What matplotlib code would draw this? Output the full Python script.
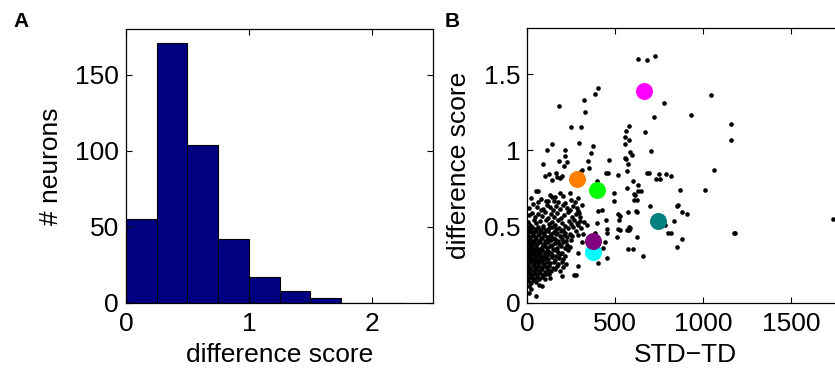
import matplotlib
matplotlib.use("Agg")
import matplotlib.pyplot as plt

plt.rcParams["font.family"] = ["Liberation Sans", "DejaVu Sans"]

# panel A: histogram of difference scores
bin_left = [0.0, 0.25, 0.5, 0.75, 1.0, 1.25, 1.5, 1.75, 2.0]
counts = [55, 171, 104, 42, 17, 8, 3, 0, 0]
bin_width = 0.25

# panel B: STD-TD vs difference score (one point per neuron)
sparse_pts = [
    (629, 1.60), (678, 1.59), (727, 1.62), (402, 1.41), (386, 1.37), (324, 1.33),
    (330, 1.25), (182, 1.29), (778, 1.31), (722, 1.22), (928, 1.23), (1043, 1.36),
    (1159, 1.17), (1157, 1.07), (1061, 0.87), (1011, 0.74), (1174, 0.46), (1739, 0.55),
    (667, 1.12), (250, 1.15), (305, 1.15), (138, 1.04), (110, 1.00), (214, 1.00),
    (295, 1.05), (375, 1.03), (578, 1.16), (561, 1.125), (553, 1.087), (578, 1.066),
    (557, 1.043),
    # 0.75 - 1.0
    (364, 0.98), (216, 0.963), (226, 0.923), (210, 0.90), (178, 0.928), (89, 0.91),
    (345, 0.932), (349, 0.882), (462, 0.936), (563, 0.945), (121, 0.845), (102, 0.831),
    (140, 0.805), (163, 0.853), (169, 0.827), (188, 0.82), (197, 0.833), (301, 0.86),
    (313, 0.871), (447, 0.853), (457, 0.853), (513, 0.84), (566, 0.866), (703, 0.995),
    (583, 0.987), (593, 0.969), (557, 0.947), (574, 0.908), (678, 0.849), (689, 0.849),
    (750, 0.845), (786, 0.845), (816, 0.829), (731, 0.81), (754, 0.81), (396, 0.80),
    (598, 0.80), (631, 0.772), (566, 0.752),
    # 0.5 - 0.75 outside the dense cluster
    (51, 0.73), (61, 0.73), (59, 0.66), (119, 0.67), (138, 0.695), (608, 0.71),
    (627, 0.735), (604, 0.675), (574, 0.595), (621, 0.595), (865, 0.738), (852, 0.635),
    (881, 0.593), (905, 0.58), (833, 0.537), (782, 0.507), (644, 0.735), (610, 0.707),
    (625, 0.674), (697, 0.634), (617, 0.602), (527, 0.569), (495, 0.718), (493, 0.67),
    (290, 0.685), (309, 0.64), (286, 0.60), (294, 0.587), (400, 0.60), (423, 0.608),
    (445, 0.543), (514, 0.582), (523, 0.543), (298, 0.534), (286, 0.512), (394, 0.521),
    (858, 0.64),
    # 0.25 - 0.5 outside the dense cluster
    (581, 0.49), (576, 0.477), (570, 0.35), (602, 0.35), (659, 0.304), (621, 0.433),
    (801, 0.46), (816, 0.46), (881, 0.415), (852, 0.363), (1182, 0.457), (305, 0.492),
    (455, 0.486), (517, 0.482), (511, 0.429), (451, 0.455), (385, 0.455), (315, 0.45),
    (286, 0.444), (309, 0.40), (441, 0.40), (432, 0.357), (290, 0.326), (451, 0.293),
    (400, 0.26), (527, 0.48), (568, 0.48), (580, 0.495), (290, 0.239), (278, 0.18),
]

dense_pts = [
    (129, 0.707), (186, 0.718), (205, 0.70), (160, 0.695), (240, 0.72),
    (20, 0.69), (80, 0.68), (105, 0.665), (150, 0.67), (175, 0.66), (215, 0.655),
    (250, 0.675), (270, 0.66),
    (10, 0.62), (35, 0.645), (55, 0.63), (75, 0.61), (92, 0.612), (110, 0.64),
    (130, 0.625), (145, 0.605), (165, 0.635), (185, 0.615), (200, 0.64), (225, 0.62),
    (245, 0.605), (262, 0.635), (280, 0.62),
    (8, 0.575), (25, 0.59), (45, 0.56), (60, 0.585), (85, 0.57), (100, 0.595),
    (118, 0.555), (135, 0.58), (150, 0.565), (170, 0.59), (190, 0.555), (210, 0.575),
    (230, 0.595), (255, 0.565), (275, 0.58), (300, 0.56),
    (5, 0.53), (18, 0.51), (38, 0.545), (52, 0.52), (70, 0.535), (88, 0.505),
    (105, 0.54), (122, 0.515), (140, 0.53), (158, 0.51), (175, 0.545), (195, 0.52),
    (215, 0.505), (235, 0.535), (250, 0.515), (268, 0.545), (285, 0.52), (320, 0.53),
    (340, 0.51),
    (3, 0.49), (15, 0.478), (28, 0.495), (42, 0.483), (58, 0.497), (73, 0.48),
    (90, 0.492), (108, 0.476), (125, 0.489), (143, 0.498), (162, 0.481), (180, 0.493),
    (200, 0.479), (232, 0.488), (262, 0.496),
    (8, 0.462), (20, 0.472), (35, 0.455), (48, 0.468), (65, 0.451), (80, 0.466),
    (97, 0.458), (115, 0.473), (132, 0.453), (150, 0.464), (170, 0.456), (192, 0.47),
    (215, 0.46), (245, 0.452), (275, 0.468),
    (2, 0.44), (14, 0.428), (30, 0.447), (45, 0.433), (60, 0.442), (77, 0.427),
    (93, 0.445), (110, 0.431), (128, 0.439), (147, 0.426), (165, 0.448), (185, 0.435),
    (208, 0.443), (228, 0.429), (255, 0.437),
    (6, 0.412), (18, 0.421), (33, 0.404), (50, 0.417), (67, 0.408), (83, 0.423),
    (100, 0.402), (118, 0.415), (137, 0.409), (155, 0.42), (175, 0.405), (196, 0.418),
    (220, 0.407), (250, 0.414),
    (4, 0.385), (16, 0.396), (28, 0.378), (43, 0.391), (57, 0.382), (72, 0.398),
    (88, 0.376), (103, 0.389), (120, 0.395), (138, 0.38), (158, 0.392), (178, 0.384),
    (200, 0.397), (225, 0.379),
    (9, 0.36), (22, 0.371), (37, 0.354), (52, 0.367), (68, 0.352), (82, 0.364),
    (98, 0.373), (113, 0.357), (130, 0.369), (148, 0.351), (168, 0.362), (190, 0.374),
    (212, 0.356), (240, 0.366),
    (3, 0.338), (14, 0.327), (27, 0.345), (40, 0.331), (55, 0.342), (70, 0.326),
    (85, 0.348), (100, 0.334), (117, 0.341), (135, 0.329), (155, 0.346), (175, 0.335),
    (198, 0.328), (230, 0.343),
    (7, 0.312), (20, 0.303), (33, 0.321), (47, 0.308), (62, 0.318), (78, 0.301),
    (93, 0.315), (108, 0.306), (125, 0.322), (143, 0.31), (163, 0.304), (185, 0.319),
    (215, 0.307),
    (4, 0.287), (17, 0.296), (30, 0.279), (44, 0.292), (58, 0.283), (73, 0.298),
    (88, 0.277), (103, 0.29), (120, 0.284), (140, 0.297), (160, 0.28), (182, 0.293),
    (205, 0.286),
    (10, 0.262), (23, 0.271), (37, 0.255), (51, 0.268), (66, 0.258), (80, 0.273),
    (96, 0.252), (112, 0.265), (130, 0.26), (150, 0.27), (172, 0.256), (195, 0.266),
    (220, 0.253),
    (5, 0.238), (18, 0.229), (32, 0.245), (46, 0.232), (60, 0.241), (75, 0.227),
    (92, 0.247), (108, 0.235), (125, 0.243), (145, 0.23), (168, 0.24), (200, 0.234),
    (8, 0.212), (22, 0.221), (36, 0.205), (50, 0.218), (65, 0.208), (82, 0.223),
    (98, 0.203), (115, 0.216), (135, 0.21), (160, 0.219), (185, 0.206),
    (3, 0.188), (15, 0.196), (28, 0.179), (42, 0.192), (57, 0.183), (72, 0.198),
    (88, 0.181), (105, 0.19), (125, 0.185), (197, 0.173), (264, 0.184),
    (10, 0.162), (24, 0.171), (38, 0.155), (53, 0.168), (68, 0.158), (85, 0.166),
    (102, 0.153), (130, 0.16),
    (6, 0.142), (20, 0.128), (35, 0.146), (50, 0.133), (65, 0.118), (81, 0.109),
    (11, 0.109),
    (19, 0.087), (10, 0.065), (50, 0.045),
]

# highlighted example neurons (drawn in this order)
hl_x = [284, 396, 665, 744, 375, 375]
hl_y = [0.813, 0.74, 1.391, 0.536, 0.33, 0.407]
hl_colors = ["#ff8000", "#00ff00", "#ff00ff", "#008080", "#00ffff", "#800080"]

pts = sparse_pts + dense_pts
sx = [p[0] for p in pts]
sy = [p[1] for p in pts]

FS = 19

fig = plt.figure(figsize=(8.35, 3.75), dpi=100)

# ---- A ----
axa = fig.add_axes([0.1509, 0.1928, 0.368, 0.730])
axa.bar(bin_left, counts, width=bin_width, align="edge", color="#000080",
        edgecolor="black", linewidth=0.8)
axa.set_xlim(0, 2.5)
axa.set_ylim(0, 180)
axa.set_xticks([0, 1, 2])
axa.set_yticks([0, 50, 100, 150])
axa.set_xlabel("difference score", fontsize=FS, labelpad=5)
axa.set_ylabel("# neurons", fontsize=FS, labelpad=9)

# ---- B ----
axb = fig.add_axes([0.6315, 0.1928, 0.3794, 0.7317])
axb.scatter(sx, sy, s=11, color="black", linewidths=0, zorder=2)
for x, y, c in zip(hl_x, hl_y, hl_colors):
    axb.scatter([x], [y], s=150, color=c, linewidths=0, zorder=3)
axb.set_xlim(0, 1800)
axb.set_ylim(0, 1.8)
axb.set_xticks([0, 500, 1000, 1500])
axb.set_yticks([0, 0.5, 1, 1.5])
axb.set_yticklabels(["0", "0.5", "1", "1.5"])
axb.set_xlabel("STD\u2212TD", fontsize=FS, labelpad=5)
axb.set_ylabel("difference score", fontsize=FS, labelpad=9)

for ax in (axa, axb):
    ax.tick_params(direction="in", length=4, width=0.8, labelsize=FS,
                   top=True, right=True)
    ax.tick_params(axis="x", pad=7)
    ax.tick_params(axis="y", pad=5)
    for sp in ax.spines.values():
        sp.set_linewidth(0.9)

fig.text(0.016, 0.928, "A", fontsize=15, fontweight="bold")
fig.text(0.532, 0.928, "B", fontsize=15, fontweight="bold")

fig.savefig("out.png", dpi=100)
